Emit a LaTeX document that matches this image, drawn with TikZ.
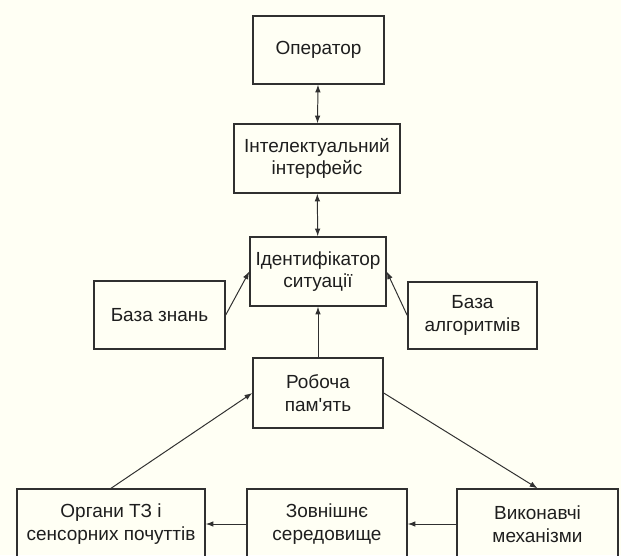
\documentclass[tikz,border=0pt]{standalone}
\usepackage{fontspec}
\setmainfont{Liberation Sans}
\usepackage{xcolor}
\usetikzlibrary{arrows.meta}
\definecolor{paperx}{HTML}{FFFFF4}
\definecolor{linex}{HTML}{303030}
\definecolor{textx}{HTML}{1E1E1E}
\tikzset{
  blk/.style={draw=linex,line width=1pt,rectangle,align=center,inner sep=0pt,
    font=\fontsize{13.5}{16}\selectfont,text=textx},
  ar/.style={-{Latex[length=5.5pt,width=4pt]},line width=0.7pt,linex},
  arr/.style={{Latex[length=5.5pt,width=4pt]}-{Latex[length=5.5pt,width=4pt]},line width=0.7pt,linex}
}

\begin{document}
\begin{tikzpicture}[x=0.025cm,y=-0.025cm]
\fill[paperx] (0,0) rectangle (621,555);
\useasboundingbox (0,0) rectangle (621,555);
\clip (0,0) rectangle (621,555);
% upper column
\node[blk,minimum width=131*0.025cm,minimum height=68*0.025cm] (op) at (318.5,50) {Оператор};
\node[blk,minimum width=166*0.025cm,minimum height=69*0.025cm] (intf) at (317,158.5) {Інтелектуальний\\інтерфейс};
\node[blk,minimum width=136*0.025cm,minimum height=69*0.025cm] (ident) at (318,271.5) {Ідентифікатор\\ситуації};
\node[blk,minimum width=131*0.025cm,minimum height=68*0.025cm] (bz) at (159.5,315) {База знань};
\node[blk,minimum width=129*0.025cm,minimum height=67*0.025cm] (ba) at (472.5,315.5) {База\\алгоритмів};
\node[blk,minimum width=130*0.025cm,minimum height=70*0.025cm] (rob) at (318,393) {Робоча\\пам\textquotesingle ять};
% lower row
\node[blk,minimum width=188*0.025cm,minimum height=70*0.025cm] (org) at (111,524) {Органи ТЗ і\\сенсорних почуттів};
\node[blk,minimum width=160*0.025cm,minimum height=70*0.025cm] (zov) at (327,524) {Зовнішнє\\середовище};
\node[blk,minimum width=161*0.025cm,minimum height=70*0.025cm] (vyk) at (537.5,524) {Виконавчі\\механізми};
% connectors
\draw[arr] (op)--(intf);
\draw[arr] (intf)--(ident);
\foreach \a/\b in {bz.east/ident.west,ba.west/ident.east,rob/ident,org.north/rob.west,rob.east/vyk.north,zov/org,vyk/zov}{\draw[ar] (\a)--(\b);}
\end{tikzpicture}
\end{document}
